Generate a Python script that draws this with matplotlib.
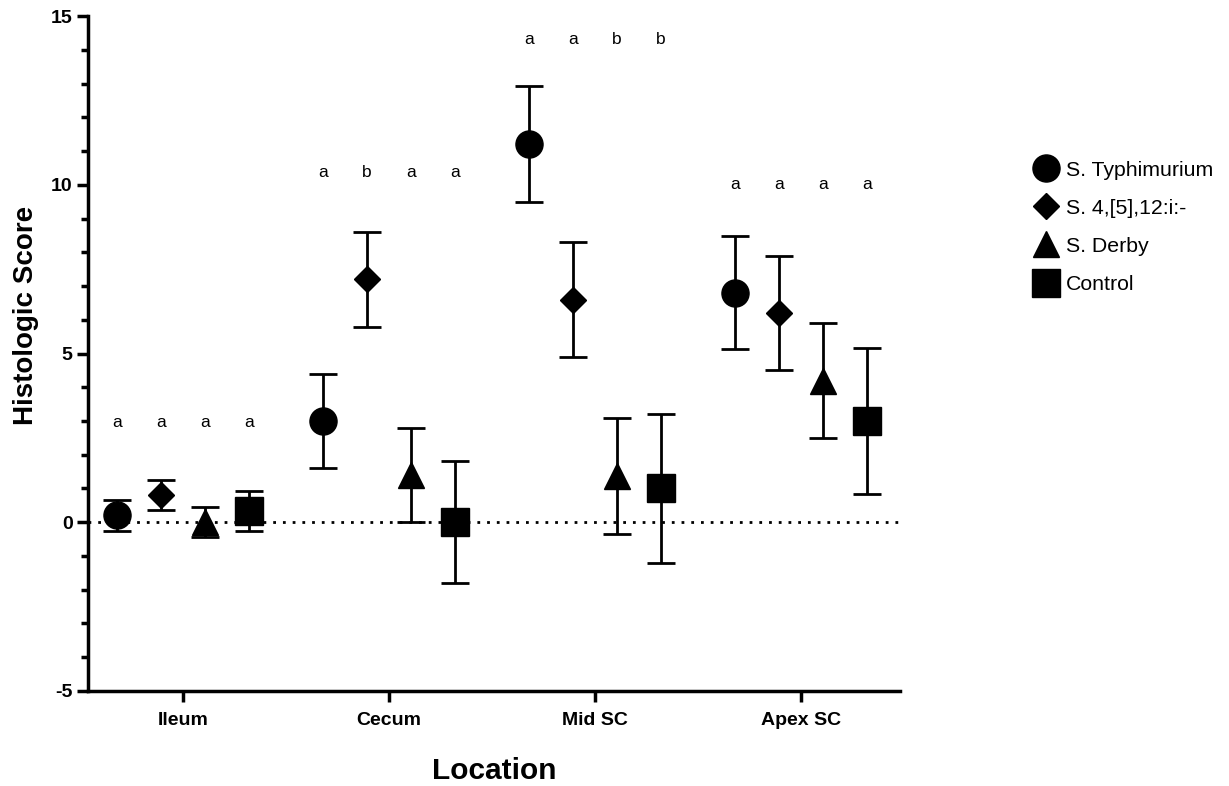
import numpy as np
import matplotlib
matplotlib.use('Agg')
import matplotlib.pyplot as plt
from matplotlib.ticker import MultipleLocator

# mean histologic score and SEM per strain, one value per location
locations = ['Ileum', 'Cecum', 'Mid SC', 'Apex SC']
groups = ['S. Typhimurium', 'S. 4,[5],12:i:-', 'S. Derby', 'Control']

typhimurium_mean = [0.2, 3.0, 11.2, 6.8]
typhimurium_sem = [0.46, 1.4, 1.72, 1.68]
monophasic_mean = [0.8, 7.2, 6.6, 6.2]
monophasic_sem = [0.45, 1.4, 1.7, 1.68]
derby_mean = [0.0, 1.4, 1.38, 4.2]
derby_sem = [0.45, 1.4, 1.72, 1.69]
control_mean = [0.33, 0.0, 1.0, 3.0]
control_sem = [0.6, 1.8, 2.2, 2.17]

# significance letters above each location
letters = [['a', 'a', 'a', 'a'],
           ['a', 'b', 'a', 'a'],
           ['a', 'a', 'b', 'b'],
           ['a', 'a', 'a', 'a']]
letter_y = [2.95, 10.37, 14.3, 10.0]

means = [typhimurium_mean, monophasic_mean, derby_mean, control_mean]
sems = [typhimurium_sem, monophasic_sem, derby_sem, control_sem]
markers = ['o', 'D', '^', 's']
msizes = [19.5, 13, 19, 19.5]
offsets = [-0.32, -0.107, 0.107, 0.32]

plt.rcParams['font.family'] = ['Liberation Sans', 'DejaVu Sans']
plt.rcParams['axes.unicode_minus'] = False

fig, ax = plt.subplots(figsize=(12.29, 7.86), dpi=100)
fig.subplots_adjust(left=0.0716, right=0.7323, bottom=0.1209, top=0.9796)

x = np.arange(len(locations))

ax.axhline(0, color='black', linestyle=(0, (1, 2.5)), linewidth=2, zorder=1)

for i in range(len(groups)):
	ax.errorbar(x + offsets[i], means[i], yerr=sems[i], fmt=markers[i],
	            color='black', markersize=msizes[i], elinewidth=2,
	            capsize=10, capthick=2, label=groups[i], zorder=3)

for j in range(len(locations)):
	for i in range(len(groups)):
		ax.text(x[j] + offsets[i], letter_y[j], letters[j][i], ha='center',
		        va='center', fontsize=12.5)

ax.set_xlim(-0.46, 3.48)
ax.set_ylim(-5, 15)
ax.set_xticks(x)
ax.set_xticklabels(locations, fontsize=14, fontweight='bold')
ax.yaxis.set_major_locator(MultipleLocator(5))
ax.yaxis.set_minor_locator(MultipleLocator(1))
for lab in ax.get_yticklabels():
	lab.set_fontweight('bold')
	lab.set_fontsize(14)

ax.spines['top'].set_visible(False)
ax.spines['right'].set_visible(False)
ax.spines['left'].set_linewidth(2.5)
ax.spines['bottom'].set_linewidth(2.5)
ax.tick_params(axis='y', which='major', length=8, width=2.5, pad=3)
ax.tick_params(axis='x', which='major', length=8, width=2.5, pad=7)
ax.tick_params(axis='y', which='minor', length=5, width=2.5)
ax.tick_params(axis='x', which='minor', bottom=False)

ax.set_ylabel('Histologic Score', fontsize=20, fontweight='bold')
ax.yaxis.set_label_coords(-0.06, 0.557)
ax.set_xlabel('Location', fontsize=21.5, fontweight='bold', labelpad=20)

legend_handles = [plt.Line2D([], [], marker=markers[i], color='black',
                             linestyle='none', markersize=msizes[i])
                  for i in range(len(groups))]
fig.legend(legend_handles, groups, loc='upper left',
           bbox_to_anchor=(0.825, 0.82), frameon=False, fontsize=15.3,
           handletextpad=0.35, labelspacing=0.9, handlelength=1.2)

fig.savefig('out.png', dpi=100)
